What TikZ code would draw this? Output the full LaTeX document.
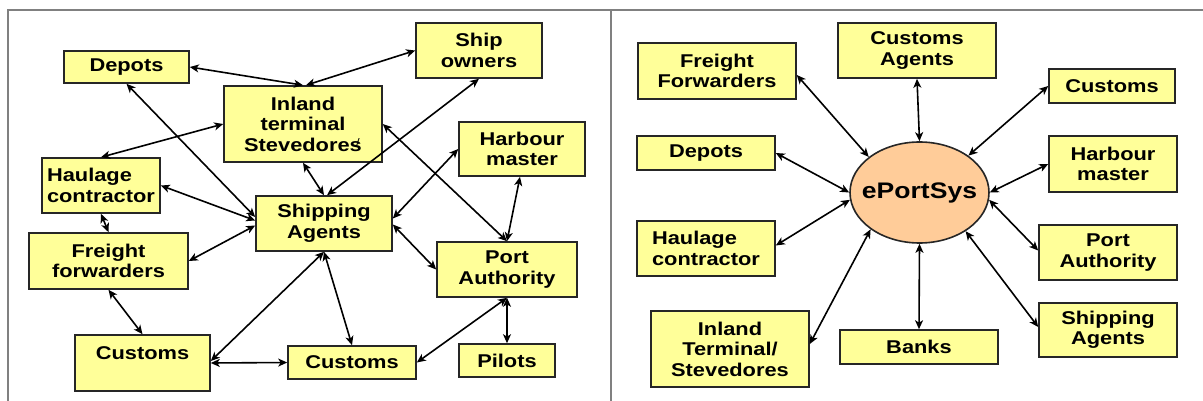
\documentclass[tikz,border=0pt]{standalone}
\usepackage{fontspec}
\setmainfont{Liberation Sans}[FakeStretch=1.18]
\usetikzlibrary{shapes.geometric,arrows.meta}
\definecolor{boxyellow}{HTML}{FFFF99}
\definecolor{peach}{HTML}{FFCC99}
\definecolor{framegray}{HTML}{808080}
\begin{document}
\begin{tikzpicture}[x=1pt,y=-1pt,
  box/.style={draw=black!85,line width=1.6pt,fill=boxyellow,inner sep=0pt,
    align=center,font=\fontsize{18.5}{20.5}\selectfont\bfseries},
  hub/.style={ellipse,draw=black!85,line width=1.6pt,fill=peach,inner sep=0pt,
    font=\fontsize{22.5}{24}\selectfont\bfseries},
  link/.style={line width=1.6pt,{Stealth[length=9pt,width=8pt,inset=2.5pt]}-{Stealth[length=9pt,width=8pt,inset=2.5pt]}},
  framel/.style={draw=framegray,line width=2pt}]
\useasboundingbox (0,0) rectangle (1203,401);
\draw[framel] (8,401) -- (8,10) -- (1203,10);
\draw[framel] (611,10) -- (611,401);
% ---------- left panel ----------
\node[box,minimum width=125pt,minimum height=32pt] (dep) at (126.5,67) {Depots};
\node[box,minimum width=126pt,minimum height=55pt] (shp) at (479,50.5) {Ship\\owners};
\node[box,minimum width=158pt,minimum height=76pt] (inl) at (303,124) {Inland\\terminal\\Stevedores\llap{\raisebox{5pt}{\fontsize{11}{11}\selectfont\mdseries /}\kern2pt}};
\node[box,minimum width=126pt,minimum height=54pt] (hbm) at (522,149) {Harbour\\master};
\node[box,minimum width=118pt,minimum height=55pt,align=left] (hau) at (101,185.5) {Haulage\\contractor};
\node[box,minimum width=136pt,minimum height=55pt] (sag) at (324,223.5) {Shipping\\Agents};
\node[box,minimum width=159pt,minimum height=56pt] (ffw) at (108.5,261) {Freight\\forwarders};
\node[box,minimum width=140pt,minimum height=55pt] (pta) at (507,269.5) {Port\\Authority};
\node[box,minimum width=135pt,minimum height=56pt] (cusL) at (142.5,363) {Customs\\\mbox{}};
\node[box,minimum width=128pt,minimum height=33pt] (cusM) at (352,362.5) {Customs};
\node[box,minimum width=96pt,minimum height=33pt] (pil) at (507,360.5) {Pilots};
\draw[link] (dep.east) -- (inl.north);
\draw[link] ([xshift=3pt]inl.north) -- (shp.west);
\draw[link] (dep.south) -- ([yshift=6.5pt]sag.west);
\draw[link] (inl.west) -- (hau.north);
\draw[link] (inl.south) -- (sag.north);
\draw[link] ([xshift=3pt]sag.north) -- (shp.south);
\draw[link] (inl.east) -- (pta.north);
\draw[link] (hbm.west) -- ([yshift=5pt]sag.east);
\draw[link] ([xshift=-2pt]hbm.south) -- (pta.north);
\draw[link] (hau.east) -- ([yshift=3pt]sag.west);
\draw[link] (hau.south) -- (ffw.north);
\draw[link] (ffw.east) -- ([yshift=-2pt]sag.west);
\draw[link] ([yshift=-1pt]sag.east) -- (pta.west);
\draw[link] (ffw.south) -- (cusL.north);
\draw[link] (sag.south) -- ([yshift=2pt]cusL.east);
\draw[link] (sag.south) -- (cusM.north);
\draw[link] (cusL.east) -- (cusM.west);
\draw[link] (pta.south) -- (cusM.east);
\draw[link] (pta.south) -- (pil.north);
% ---------- right panel ----------
\node[hub,minimum width=139pt,minimum height=101pt] (eps) at (919.5,192.5) {\makebox[0pt]{ePortSys}};
\node[box,minimum width=158pt,minimum height=56pt] (rff) at (717,71) {Freight\\Forwarders};
\node[box,minimum width=158pt,minimum height=55pt] (rca) at (917,50.5) {Customs\\Agents};
\node[box,minimum width=126pt,minimum height=34pt] (rcu) at (1112,86) {Customs};
\node[box,minimum width=138pt,minimum height=34pt] (rde) at (706,153) {Depots};
\node[box,minimum width=128pt,minimum height=56pt] (rhm) at (1113,164) {Harbour\\master};
\node[box,minimum width=138pt,minimum height=55pt,align=left] (rha) at (706,248.5) {Haulage\\contractor};
\node[box,minimum width=138pt,minimum height=55pt] (rpa) at (1108,252.5) {Port\\Authority};
\node[box,minimum width=158pt,minimum height=76pt] (rin) at (730,349) {Inland\\Terminal/\\Stevedores};
\node[box,minimum width=158pt,minimum height=34pt] (rba) at (919,347) {Banks};
\node[box,minimum width=138pt,minimum height=54pt] (rsa) at (1108,330) {Shipping\\Agents};
\draw[link] ([yshift=-4pt]rff.east) -- (eps.145.5);
\draw[link] (rca.south) -- (eps.north);
\draw[link] (rcu.west) -- (eps.37.9);
\draw[link] (rde.east) -- (eps.180);
\draw[link] (rhm.west) -- (eps.east);
\draw[link] ([yshift=3pt]rha.east) -- (eps.186);
\draw[link] ([yshift=5pt]rin.east) -- (eps.217);
\draw[link] (rba.north) -- (eps.south);
\draw[link] ([yshift=2pt]rpa.west) -- (eps.-6);
\draw[link] ([yshift=3pt]rsa.west) -- (eps.-40.7);
\end{tikzpicture}
\end{document}
